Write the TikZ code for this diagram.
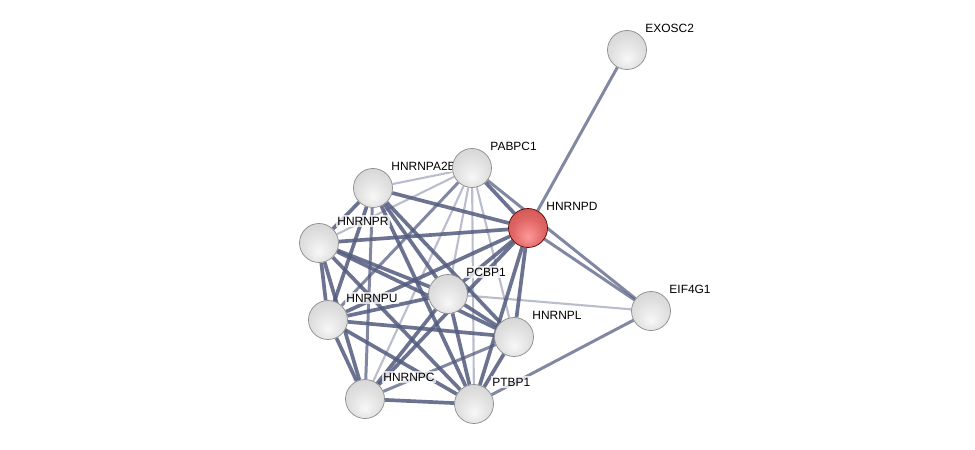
\documentclass[tikz,border=0pt]{standalone}
\usepackage{fontspec}
\setmainfont{Liberation Sans}
\usepackage{tikz}
\usepackage{xcolor}
\usetikzlibrary{backgrounds}
\definecolor{edgeblue}{RGB}{82,90,126}
\pgfdeclareradialshading{grayball}{\pgfpoint{0bp}{-12bp}}{color(0bp)=(white!97!black); color(20bp)=(white!88!black); color(36bp)=(white!82!black); color(46bp)=(white!62!black); color(50bp)=(white!50!black)}
\pgfdeclareradialshading{redball}{\pgfpoint{0bp}{-12bp}}{color(0bp)=(red!40!white); color(20bp)=(red!55!white!88!black); color(36bp)=(red!60!white!80!black); color(46bp)=(red!70!black); color(50bp)=(red!50!black)}

\begin{document}
\begin{tikzpicture}[
        protein/.style={circle, minimum size=0.78cm, inner sep=0pt, shade, shading=grayball, draw=black!45, line width=0.4pt},
        seed/.style={protein, shading=redball, draw=red!35!black},
        lbl/.style={anchor=west, xshift=-0.7mm, yshift=4.4mm, inner sep=1pt, fill=white, fill opacity=0.75, text opacity=1, font=\fontsize{6.8}{8}\selectfont},
        strong/.style={draw=edgeblue, line width=2.1pt, opacity=0.85},
        mid/.style={draw=edgeblue, line width=1.7pt, opacity=0.72},
        weak/.style={draw=edgeblue, line width=1.2pt, opacity=0.4}]
        \useasboundingbox (0,0) rectangle (19.5,9);

        \node (exosc2) at (12.54, 8.00) [protein, label={[lbl]0:EXOSC2}] {};
        \node (hnrnpa2b1) at ( 7.46, 5.24) [protein, label={[lbl]0:HNRNPA2B1}] {};
        \node (pabpc1) at ( 9.44, 5.64) [protein, label={[lbl]0:PABPC1}] {};
        \node (hnrnpr) at ( 6.38, 4.14) [protein, label={[lbl]0:HNRNPR}] {};
        \node (hnrnpd) at (10.56, 4.44) [seed, label={[lbl]0:HNRNPD}] {};
        \node (hnrnpu) at ( 6.56, 2.60) [protein, label={[lbl]0:HNRNPU}] {};
        \node (pcbp1) at ( 8.96, 3.12) [protein, label={[lbl]0:PCBP1}] {};
        \node (eif4g1) at (13.02, 2.78) [protein, label={[lbl]0:EIF4G1}] {};
        \node (hnrnpl) at (10.28, 2.26) [protein, label={[lbl]0:HNRNPL}] {};
        \node (hnrnpc) at ( 7.30, 1.02) [protein, label={[lbl]0:HNRNPC}] {};
        \node (ptbp1) at ( 9.48, 0.92) [protein, label={[lbl]0:PTBP1}] {};

        \begin{scope}[on background layer]
        \foreach \a/\b in {hnrnpa2b1/pabpc1, pabpc1/hnrnpr, pabpc1/pcbp1, pabpc1/hnrnpl, pabpc1/hnrnpc, pabpc1/ptbp1, pcbp1/eif4g1}
            \draw[weak] (\a) -- (\b);
        \foreach \a/\b in {hnrnpa2b1/hnrnpc, pabpc1/hnrnpu, hnrnpl/hnrnpc, exosc2/hnrnpd, hnrnpd/eif4g1, pabpc1/eif4g1, ptbp1/eif4g1}
            \draw[mid] (\a) -- (\b);
        \foreach \a/\b in {hnrnpa2b1/hnrnpd, hnrnpa2b1/hnrnpr, hnrnpa2b1/pcbp1, hnrnpa2b1/hnrnpu, hnrnpa2b1/hnrnpl, hnrnpa2b1/ptbp1,
                pabpc1/hnrnpd, hnrnpd/hnrnpr, hnrnpd/pcbp1, hnrnpd/hnrnpu, hnrnpd/hnrnpl, hnrnpd/hnrnpc, hnrnpd/ptbp1,
                hnrnpr/pcbp1, hnrnpr/hnrnpu, hnrnpr/hnrnpl, hnrnpr/hnrnpc, hnrnpr/ptbp1,
                pcbp1/hnrnpu, pcbp1/hnrnpl, pcbp1/hnrnpc, pcbp1/ptbp1,
                hnrnpu/hnrnpl, hnrnpu/hnrnpc, hnrnpu/ptbp1, hnrnpl/ptbp1, hnrnpc/ptbp1}
            \draw[strong] (\a) -- (\b);
        \end{scope}
    \end{tikzpicture}
\end{document}
